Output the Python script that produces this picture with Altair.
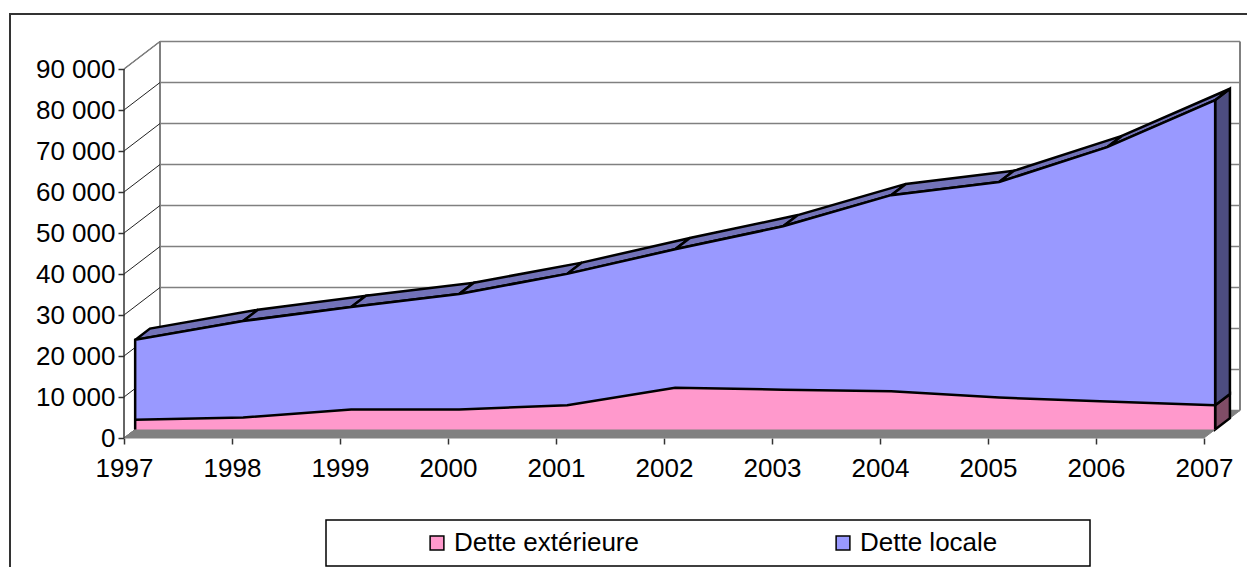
import altair as alt
import pandas as pd

# Debt by year, in the chart's units
YEARS = [1997, 1998, 1999, 2000, 2001, 2002, 2003, 2004, 2005, 2006, 2007]
DETTE_EXTERIEURE = [2400, 2900, 4900, 4900, 5900, 10200, 9700, 9300, 7800, 6800, 5900]
DETTE_LOCALE = [19450, 23550, 24950, 28150, 32050, 33750, 39850, 47850, 52550, 62050, 74450]
TICKS = [0, 10000, 20000, 30000, 40000, 50000, 60000, 70000, 80000, 90000]

FONT = "Liberation Sans"
PINK, BLUE = "#FF99CC", "#9999FF"
TOP_BLUE, SIDE_BLUE, SIDE_PINK = "#7272B8", "#4D4D80", "#804D66"
WALL_GREY = "#808080"

# Oblique projection: depth 0 is the axis plane, depth 1 the back wall.
UNITS_PER_PX = 90000 / 369
DEPTH_YEARS = 1 / 3
DEPTH_VALUE = 27.5 * UNITS_PER_PX
SERIES_FRONT, SERIES_BACK = 0.31, 0.72
X_MAX = YEARS[-1] + DEPTH_YEARS
Y_MAX = 397 * UNITS_PER_PX

TOTAL = [a + b for a, b in zip(DETTE_EXTERIEURE, DETTE_LOCALE)]


def project(year, value, depth):
    return {"x": year + depth * DEPTH_YEARS, "y": value + depth * DEPTH_VALUE}


def path(name, points):
    rows = []
    for i, (year, value, depth) in enumerate(points):
        rows.append({"shape": name, "step": i, **project(year, value, depth)})
    return rows


x_scale = alt.Scale(domain=[YEARS[0], X_MAX], zero=False, nice=False)
y_scale = alt.Scale(domain=[0, Y_MAX], zero=False, nice=False)
# Axes carry the ticks and labels only; their lines are drawn as marks
X = alt.X("x:Q", scale=x_scale, axis=alt.Axis(
    values=YEARS, format="d", title=None, grid=False, domain=False, tickColor="#333333",
    tickSize=6, tickWidth=1.5, labelFont=FONT, labelFontSize=26, labelColor="black",
    labelPadding=11, labelOverlap=False, labelFlush=False,
))
Y = alt.Y("y:Q", scale=y_scale, axis=alt.Axis(
    values=TICKS, title=None, grid=False, domain=False, tickColor="#333333",
    tickSize=6, tickWidth=1.5, labelFont=FONT, labelFontSize=26, labelColor="black",
    labelPadding=3, labelOverlap=False, labelExpr="replace(format(datum.value, ','), ',', ' ')",
))


def lines(rows, **mark):
    return alt.Chart(pd.DataFrame(rows)).mark_line(clip=False, **mark).encode(
        x=X, y=Y, detail="shape:N", order="step:Q"
    )


def polygons(rows, fill, stroke="black", width=2.5):
    return alt.Chart(pd.DataFrame(rows)).mark_line(
        interpolate="linear-closed", filled=True, fill=fill, stroke=stroke,
        strokeWidth=width, strokeJoin="miter",
    ).encode(x=X, y=Y, detail="shape:N", order="step:Q")


first, last = YEARS[0], YEARS[-1]

# Back wall and the floor
grid_back = []
grid_side = []
for v in TICKS:
    grid_back += path(f"back{v}", [(first, v, 1), (last, v, 1)])
    grid_side += path(f"side{v}", [(first, v, 0), (first, v, 1)])
wall_edges = path("wl", [(first, 0, 1), (first, TICKS[-1], 1)]) + path(
    "wr", [(last, 0, 1), (last, TICKS[-1], 1)]
)
top_edge = path("top", [(first, TICKS[-1], 0), (first, TICKS[-1], 1)])
floor = path("floor", [(first, 0, 0), (last, 0, 0), (last, 0, 1), (first, 0, 1)])
axis_line = path("axis", [(first, 0, 0), (first, TICKS[-1], 0)])

# Extruded top of the stack and its right-hand end faces
bands = []
for i in range(len(YEARS) - 1):
    bands += path(f"band{i}", [
        (YEARS[i], TOTAL[i], SERIES_FRONT),
        (YEARS[i + 1], TOTAL[i + 1], SERIES_FRONT),
        (YEARS[i + 1], TOTAL[i + 1], SERIES_BACK),
        (YEARS[i], TOTAL[i], SERIES_BACK),
    ])
end_blue = path("eb", [
    (last, DETTE_EXTERIEURE[-1], SERIES_FRONT), (last, TOTAL[-1], SERIES_FRONT),
    (last, TOTAL[-1], SERIES_BACK), (last, DETTE_EXTERIEURE[-1], SERIES_BACK),
])
end_pink = path("ep", [
    (last, 0, SERIES_FRONT), (last, DETTE_EXTERIEURE[-1], SERIES_FRONT),
    (last, DETTE_EXTERIEURE[-1], SERIES_BACK), (last, 0, SERIES_BACK),
])

# Front faces
faces = []
for i, year in enumerate(YEARS):
    low = project(year, 0, SERIES_FRONT)
    mid = project(year, DETTE_EXTERIEURE[i], SERIES_FRONT)
    high = project(year, TOTAL[i], SERIES_FRONT)
    faces.append({"x": low["x"], "y": low["y"], "y2": mid["y"], "serie": "Dette extérieure"})
    faces.append({"x": low["x"], "y": mid["y"], "y2": high["y"], "serie": "Dette locale"})

front = alt.Chart(pd.DataFrame(faces)).mark_area(clip=False, opacity=1).encode(
    x=X,
    y=Y,
    y2="y2:Q",
    color=alt.Color(
        "serie:N",
        scale=alt.Scale(domain=["Dette extérieure", "Dette locale"], range=[PINK, BLUE]),
        legend=alt.Legend(
            title=None, orient="none", legendX=300, legendY=489, columns=2,
            columnPadding=191, symbolType="square", symbolSize=190,
            symbolStrokeColor="black", symbolStrokeWidth=1.5, symbolOpacity=1,
            labelFont=FONT, labelFontSize=26, labelColor="black", labelOffset=4,
            labelLimit=400, padding=0,
        ),
    ),
)

outline = path("outline", [(last, 0, SERIES_FRONT), (last, TOTAL[-1], SERIES_FRONT)]
               + [(y, t, SERIES_FRONT) for y, t in zip(YEARS[-2::-1], TOTAL[-2::-1])]
               + [(first, 0, SERIES_FRONT)])
pink_top = path("pink", [(y, e, SERIES_FRONT) for y, e in zip(YEARS, DETTE_EXTERIEURE)])

# Outer frame and the box around the legend
anchor = pd.DataFrame({"a": [0]})
frame = alt.Chart(anchor).mark_rect(fill="transparent", stroke="#333333", strokeWidth=2).encode(
    x=alt.value(-114), x2=alt.value(1300), y=alt.value(-27), y2=alt.value(700)
)
legend_box = alt.Chart(anchor).mark_rect(fill="transparent", stroke="black", strokeWidth=1.5).encode(
    x=alt.value(202), x2=alt.value(966), y=alt.value(479), y2=alt.value(525)
)

chart = alt.layer(
    frame,
    legend_box,
    lines(grid_back, color=WALL_GREY, strokeWidth=1.5),
    lines(wall_edges, color=WALL_GREY, strokeWidth=2),
    lines(grid_side, color="#222222", strokeWidth=1),
    lines(top_edge, color=WALL_GREY, strokeWidth=1.5),
    polygons(floor, WALL_GREY, stroke=WALL_GREY, width=1),
    lines(axis_line, color="#333333", strokeWidth=1.5),
    polygons(end_pink, SIDE_PINK),
    polygons(end_blue, SIDE_BLUE),
    polygons(bands, TOP_BLUE),
    front,
    lines(pink_top, color="black", strokeWidth=2.5),
    lines(outline, color="black", strokeWidth=2.5),
).properties(
    width=1116,
    height=397,
    padding={"left": 124, "top": 41, "right": 7, "bottom": 129},
    autosize=alt.AutoSizeParams(type="none"),
    background="white",
).configure_view(strokeWidth=0)

chart.save("out.html", embed_options={"renderer": "svg", "actions": False})
